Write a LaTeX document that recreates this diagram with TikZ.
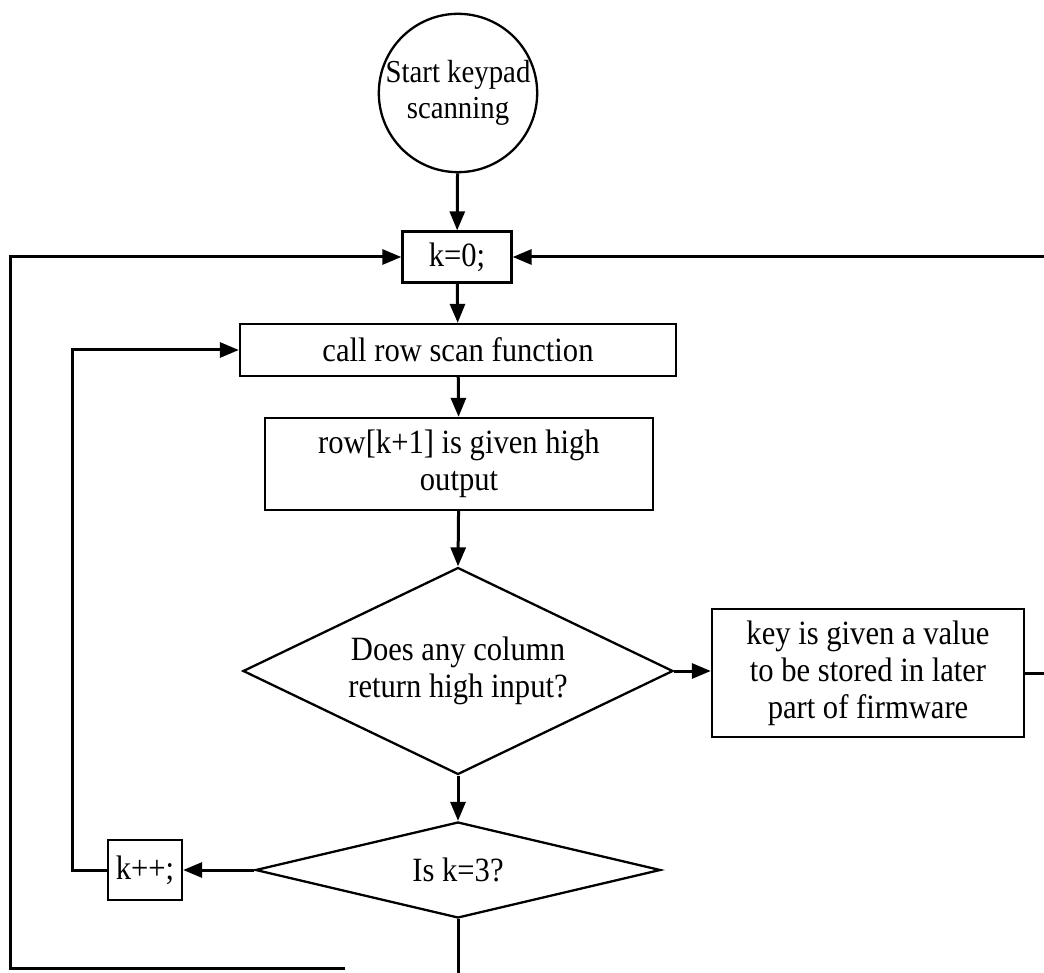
\documentclass[tikz,border=0pt]{standalone}
\usepackage{fontspec}
\setmainfont{Liberation Serif}[FakeStretch=0.9]
\usetikzlibrary{shapes.geometric,arrows.meta}
\begin{document}
\begin{tikzpicture}[x=1pt,y=-1pt,
  every node/.style={font=\fontsize{34}{37}\selectfont, align=center, line width=2.3pt},
  proc/.style={draw, rectangle, inner sep=0pt},
  decision/.style={draw, diamond, inner sep=0pt},
  flow/.style={line width=3pt, -{Triangle[length=19pt,width=15pt]}},
  link/.style={line width=3pt}]
\useasboundingbox (0,0) rectangle (1044,973);
% nodes
\node[draw, circle, minimum size=136pt, inner sep=0pt, font=\fontsize{32}{36}\selectfont] (start) at (458,93) {Start keypad\\scanning};
\node[proc, minimum width=109pt, minimum height=51pt] (k0) at (457,257) {k=0;};
\node[proc, minimum width=436pt, minimum height=52pt] (call) at (458,350) {call row scan function};
\node[proc, minimum width=388pt, minimum height=92pt] (row) at (459,464) {row[k+1] is given high\\output};
\node[decision, minimum width=430pt, minimum height=207pt, aspect=2.08] (d1) at (458,671) {Does any column\\return high input?};
\node[proc, minimum width=312pt, minimum height=128pt] (key) at (868,673) {key is given a value\\to be stored in later\\part of firmware};
\node[decision, minimum width=405pt, minimum height=96pt, aspect=4.2] (d2) at (458,870) {Is k=3?};
\node[proc, minimum width=74pt, minimum height=60pt] (kpp) at (145,870) {k++;};
% bend points of the loops
\coordinate (lk1) at (72,870);
\coordinate (lk2) at (72,350);
\coordinate (rk1) at (1062,673);
\coordinate (rk2) at (1062,257);
\coordinate (dn) at (458,990);
\coordinate (bt1) at (345,968);
\coordinate (bt2) at (10,968);
\coordinate (bt3) at (10,257);
% connectors
\draw[flow] (start) -- (k0);
\draw[flow] (k0) -- (call);
\draw[flow] (call) -- (row);
\draw[flow] (row) -- (d1.north);
\draw[flow] (d1.east) -- (d1.east -| key.west);
\draw[flow] (d1.south) -- (d2.north);
\draw[flow] (d2.west) -- (kpp.east);
\draw[flow] (kpp.west) -- (lk1) -- (lk2) -- (call.west);
\draw[flow] (key.east) -- (rk1) -- (rk2) -- (k0.east);
\draw[link] (d2.south) -- (dn);
\draw[flow] (bt1) -- (bt2) -- (bt3) -- (k0.west);
\end{tikzpicture}
\end{document}
